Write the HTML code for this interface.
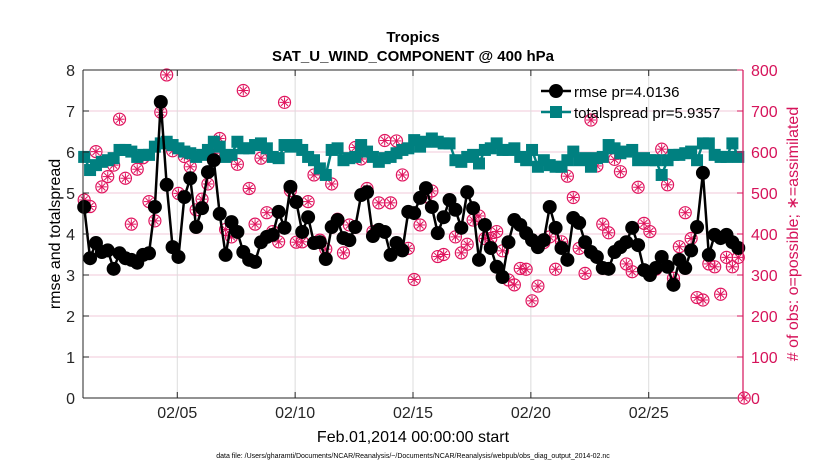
<!DOCTYPE html>
<html><head><meta charset="utf-8"><style>
html,body{margin:0;padding:0;background:#fff;}
svg{display:block;font-family:"Liberation Sans",sans-serif;}
</style></head><body>
<svg id="chart" width="830" height="470" viewBox="0 0 830 470">
<text x="413" y="42" text-anchor="middle" font-size="15" font-weight="bold">Tropics</text>
<text x="413" y="61" text-anchor="middle" font-size="15" font-weight="bold">SAT_U_WIND_COMPONENT @ 400 hPa</text>
<g id="grid"></g>
<g id="obs"></g>
<g id="spread"></g>
<g id="rmse"></g>
<g id="axes"></g>
<text transform="translate(60,234) rotate(-90)" text-anchor="middle" font-size="16">rmse and totalspread</text>
<text transform="translate(798,234) rotate(-90)" text-anchor="middle" font-size="16" fill="#d6135a"># of obs: o=possible; ∗=assimilated</text>
<text x="413" y="442" text-anchor="middle" font-size="16">Feb.01,2014 00:00:00 start</text>
<text x="413" y="458" text-anchor="middle" font-size="7">data file: /Users/gharamti/Documents/NCAR/Reanalysis/~/Documents/NCAR/Reanalysis/webpub/obs_diag_output_2014-02.nc</text>
<g id="legend">
<line x1="541" y1="91" x2="571" y2="91" stroke="#000" stroke-width="2.5"/>
<circle cx="556" cy="91" r="7" fill="#000"/>
<text x="574" y="97" font-size="15">rmse pr=4.0136</text>
<line x1="541" y1="112" x2="571" y2="112" stroke="#008080" stroke-width="2.5"/>
<rect x="550" y="106" width="12" height="12" fill="#008080"/>
<text x="574" y="118" font-size="15">totalspread pr=5.9357</text>
</g>
</svg>
<script>
const xTickLabels = ["02/05","02/10","02/15","02/20","02/25"];
const xTickDays = [4,9,14,19,24];
const yTicksLeft = [0,1,2,3,4,5,6,7,8];
const yTicksRight = [0,100,200,300,400,500,600,700,800];
const rmseValues = [4.66,3.41,3.78,3.56,3.6,3.15,3.53,3.41,3.37,3.3,3.49,3.53,4.66,7.22,5.2,3.68,3.44,4.9,5.36,4.17,4.63,5.51,5.8,4.49,3.49,4.29,4.05,3.56,3.37,
3.32,3.8,3.93,3.98,4.54,4.15,5.15,4.78,4.05,4.41,3.78,3.8,3.39,4.17,4.34,3.9,3.85,4.17,4.95,5.02,3.95,4.1,4.05,3.49,3.78,3.6,4.54,
4.51,4.88,5.12,4.66,4.02,4.41,4.83,4.59,4.15,5.02,4.63,3.37,4.22,3.66,3.2,2.95,3.8,4.34,4.22,4.02,3.85,3.68,3.85,4.66,4.15,3.66,3.37,4.39,
4.27,3.8,3.56,3.44,3.17,3.15,3.56,3.68,3.8,4.15,3.73,3.12,3.0,3.17,3.44,3.2,2.76,3.37,3.17,3.6,4.17,5.49,3.49,3.98,3.9,3.98,3.8,3.66];
const spreadValues = [5.88,5.56,5.68,5.76,5.80,5.85,6.05,6.05,6.01,5.88,5.93,5.93,6.13,6.21,6.25,6.17,6.09,6.01,5.97,5.88,5.93,6.05,6.25,6.13,5.88,5.93,6.25,6.09,6.09,
6.17,6.21,6.09,5.88,5.85,6.17,6.13,6.17,6.05,5.88,5.80,5.60,5.44,6.05,6.09,5.80,5.85,5.88,6.17,6.01,5.88,5.76,5.85,5.88,5.97,6.05,6.09,
6.29,6.13,6.25,6.33,6.25,6.21,6.21,5.80,5.76,5.88,5.93,5.72,6.05,6.09,6.21,6.05,6.05,6.09,5.88,5.80,6.05,5.64,5.80,5.68,5.64,5.64,5.80,6.01,
5.80,5.85,5.64,5.85,5.88,6.17,6.09,5.97,6.01,6.05,5.80,5.85,5.80,5.80,5.44,5.80,5.93,5.93,5.97,6.01,5.80,6.21,6.21,5.93,5.88,5.88,6.21,5.88];
const obsPossible = [483,467,601,515,540,568,680,536,424,558,586,479,432,697,788,603,499,589,564,459,485,522,597,633,411,393,570,750,511,
424,585,452,406,381,721,506,380,381,479,544,385,363,522,436,354,422,611,583,511,406,476,628,476,627,544,365,
289,422,491,505,345,350,483,393,354,375,434,444,389,389,406,359,288,276,316,314,237,273,379,393,314,381,541,489,
365,304,678,566,424,403,582,552,327,308,514,426,406,314,607,520,292,369,452,389,245,239,327,320,253,343,320,343,0];
const obsAssimilated = obsPossible.slice();

const NS="http://www.w3.org/2000/svg";
const L=83,R=743,T=70,B=398;
const xDay=d=>L+d/28*(R-L);
const timeOf=i=>0.05+i*0.25;
const yL=v=>B-v/8*(B-T);
const yR=v=>B-v/800*(B-T);
function mk(tag,attrs,parent){const e=document.createElementNS(NS,tag);for(const k in attrs)e.setAttribute(k,attrs[k]);parent.appendChild(e);return e;}
const grid=document.getElementById('grid'),axes=document.getElementById('axes');
mk('rect',{x:L,y:T,width:R-L,height:B-T,fill:'#fff'},grid);
yTicksLeft.forEach(v=>{if(v>0&&v<8){const l=mk('line',{x1:L,x2:R,y1:yL(v),y2:yL(v),stroke:'#f2c9d8','stroke-width':1},grid);

}});
xTickDays.forEach(d=>{const l=mk('line',{x1:xDay(d),x2:xDay(d),y1:T,y2:B,stroke:'#dcdcdc','stroke-width':1},grid);

});
// axes frame
mk('line',{x1:L,x2:R,y1:T,y2:T,stroke:'#262626','stroke-width':1},axes);
mk('line',{x1:L,x2:R,y1:B,y2:B,stroke:'#262626','stroke-width':1},axes);
mk('line',{x1:L,x2:L,y1:T,y2:B,stroke:'#262626','stroke-width':1},axes);
mk('line',{x1:R,x2:R,y1:T,y2:B,stroke:'#d6135a','stroke-width':1.2},axes);
yTicksLeft.forEach(v=>{mk('line',{x1:L,x2:L+6,y1:yL(v),y2:yL(v),stroke:'#262626'},axes);
const t=mk('text',{x:L-8,y:yL(v)+6,'text-anchor':'end','font-size':16,fill:'#262626'},axes);t.textContent=v;

});
yTicksRight.forEach(v=>{mk('line',{x1:R-6,x2:R,y1:yR(v),y2:yR(v),stroke:'#d6135a'},axes);
const t=mk('text',{x:R+8,y:yR(v)+6,'font-size':16,fill:'#d6135a'},axes);t.textContent=v;

});
xTickDays.forEach((d,i)=>{mk('line',{x1:xDay(d),x2:xDay(d),y1:B,y2:B-6,stroke:'#262626'},axes);mk('line',{x1:xDay(d),x2:xDay(d),y1:T,y2:T+6,stroke:'#262626'},axes);
const t=mk('text',{x:xDay(d),y:B+20,'text-anchor':'middle','font-size':16,fill:'#262626'},axes);t.textContent=xTickLabels[i];

});
// obs
const obs=document.getElementById('obs');
obsPossible.forEach((v,i)=>{const cx=xDay(timeOf(i)),cy=yR(v);
const c=mk('circle',{cx:cx,cy:cy,r:6,fill:'none',stroke:'#e0145e','stroke-width':1.2},obs);

});
obsAssimilated.forEach((v,i)=>{const cx=xDay(timeOf(i)),cy=yR(v);const r=5;
const g=mk('g',{stroke:'#e0145e','stroke-width':1},obs);


mk('line',{x1:cx-r,x2:cx+r,y1:cy,y2:cy},g);mk('line',{x1:cx,x2:cx,y1:cy-r,y2:cy+r},g);
mk('line',{x1:cx-r*.7,x2:cx+r*.7,y1:cy-r*.7,y2:cy+r*.7},g);mk('line',{x1:cx-r*.7,x2:cx+r*.7,y1:cy+r*.7,y2:cy-r*.7},g);});
// spread
const sp=document.getElementById('spread');
const sl=mk('polyline',{points:spreadValues.map((v,i)=>xDay(timeOf(i))+','+yL(v)).join(' '),fill:'none',stroke:'#008080','stroke-width':2.5},sp);


spreadValues.forEach((v,i)=>{const r=mk('rect',{x:xDay(timeOf(i))-6,y:yL(v)-6,width:12,height:12,fill:'#008080'},sp);

});
// rmse
const rm=document.getElementById('rmse');
const rl=mk('polyline',{points:rmseValues.map((v,i)=>xDay(timeOf(i))+','+yL(v)).join(' '),fill:'none',stroke:'#000','stroke-width':2.5},rm);


rmseValues.forEach((v,i)=>{const c=mk('circle',{cx:xDay(timeOf(i)),cy:yL(v),r:7,fill:'#000'},rm);

});
</script>
</body></html>
